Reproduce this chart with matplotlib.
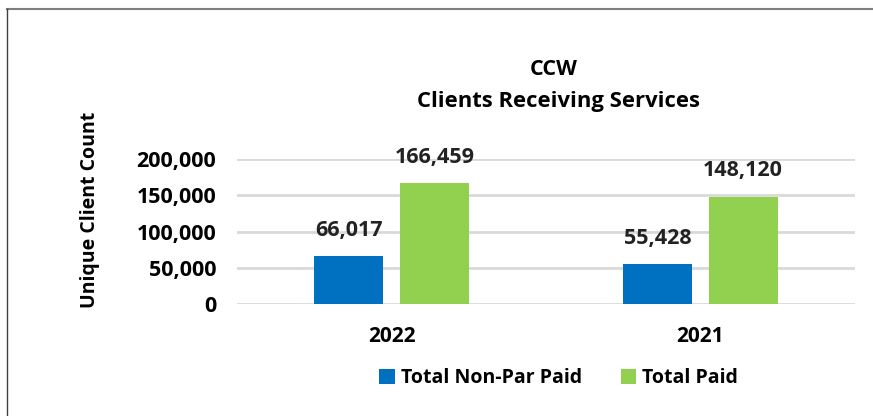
import numpy as np
import matplotlib
matplotlib.use('Agg')
import matplotlib.pyplot as plt
from matplotlib.lines import Line2D

# data
years = ['2022', '2021']
non_par_paid = [66017, 55428]
total_paid = [166459, 148120]
series_names = ['Total Non-Par Paid', 'Total Paid']
colors = ['#0070C0', '#92D050']
y_ticks = [0, 50000, 100000, 150000, 200000]

plt.rcParams['font.family'] = ['Open Sans', 'DejaVu Sans']
plt.rcParams['font.weight'] = 'bold'

fig = plt.figure(figsize=(8.73, 4.16), dpi=100)
ax = fig.add_axes([0.2715, 0.269, 0.7075, 0.349])

x = np.arange(len(years))
w = 0.223
off = 0.139
b1 = ax.bar(x - off, non_par_paid, w, color=colors[0], label=series_names[0])
b2 = ax.bar(x + off, total_paid, w, color=colors[1], label=series_names[1])

for bars in (b1, b2):
    for b in bars:
        ax.annotate(f'{int(b.get_height()):,}', (b.get_x() + b.get_width() / 2, b.get_height()),
                    xytext=(0, 11), textcoords='offset points', ha='center', va='bottom',
                    fontsize=15.5, fontweight='bold', color='#222222', annotation_clip=False)

ax.set_xlim(-0.5, 1.5)
ax.set_ylim(0, 200000)
ax.set_yticks(y_ticks)
ax.set_yticklabels([f'{v:,}' for v in y_ticks], fontsize=15.5, fontweight='bold')
ax.set_xticks(x)
ax.set_xticklabels(years, fontsize=15, fontweight='bold')
ax.tick_params(axis='y', length=0, pad=15)
ax.tick_params(axis='x', length=0, pad=16)
ax.yaxis.grid(True, color='#d9d9d9', linewidth=2)
ax.set_axisbelow(True)
for s in ax.spines.values():
    s.set_visible(False)

ax.set_ylabel('Unique Client Count', fontsize=14, fontweight='bold')
ax.yaxis.set_label_coords(-0.222, 0.65)

fig.text(0.634, 0.832, 'CCW', ha='center', va='center', fontsize=15.5, fontweight='bold')
fig.text(0.64, 0.757, 'Clients Receiving Services', ha='center', va='center', fontsize=15.8, fontweight='bold')

fig.legend(loc='center', bbox_to_anchor=(0.64, 0.091), ncol=2, frameon=False,
           fontsize=14, handlelength=0.8, handleheight=0.8, handletextpad=0.3, columnspacing=2.0)

# frame lines
fig.add_artist(Line2D([7 / 873, 1], [1 - 9 / 416, 1 - 9 / 416], color='#7f7f7f', linewidth=1.5, transform=fig.transFigure))
fig.add_artist(Line2D([7 / 873, 7 / 873], [0, 1 - 9 / 416], color='#404040', linewidth=1, transform=fig.transFigure))

fig.savefig('out.png', dpi=100)
